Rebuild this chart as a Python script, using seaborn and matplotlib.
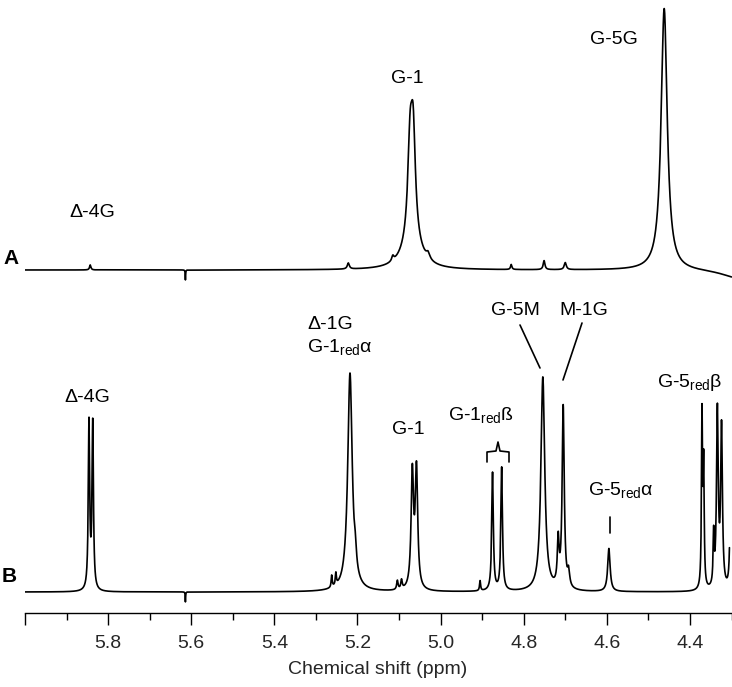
import numpy as np
import pandas as pd
import matplotlib
matplotlib.use("Agg")
import matplotlib.pyplot as plt
import seaborn as sns
from matplotlib.lines import Line2D

# ---------------- data (peak tables) ----------------
# Spectrum A: peak positions (ppm), heights (a.u.), line widths (ppm, FWHM)
a_ppm    = [5.843, 5.222, 5.115, 5.0735, 5.066, 5.069, 5.030, 4.830, 4.751, 4.700, 4.462, 4.280, 5.614]
a_height = [5.0,   6.0,   5.0,   89.0,   100.0, 27.0,  6.0,   5.0,   9.0,   7.0,   262.0, -9.0,  -10.0]
a_width  = [0.004, 0.006, 0.006, 0.013,  0.013, 0.050, 0.010, 0.004, 0.005, 0.006, 0.0176, 0.100, 0.0012]
a_range  = [6.0, 4.300]

# Spectrum B
b_ppm    = [5.846, 5.837, 5.262, 5.252, 5.218, 5.205, 5.104, 5.094, 5.068, 5.058,
            4.905, 4.875, 4.853, 4.754, 4.717, 4.705, 4.692, 4.595,
            4.371, 4.367, 4.343, 4.334, 4.324, 4.302, 5.614]
b_height = [167.0, 166.0, 12.0,  12.0,  218.0, 15.0,  9.0,   9.0,   115.0, 118.0,
            10.0,  118.0, 123.0, 214.0, 45.0,  182.0, 15.0,  43.0,
            172.0, 120.0, 50.0,  177.0, 160.0, 130.0, -10.0]
b_width  = [0.004, 0.004, 0.003, 0.003, 0.013, 0.006, 0.004, 0.004, 0.007, 0.007,
            0.003, 0.0045, 0.0045, 0.011, 0.005, 0.006, 0.006, 0.007,
            0.003, 0.003, 0.003, 0.005, 0.005, 0.004, 0.0012]
b_range  = [6.0, 4.305]

tick_values = [6.0, 5.8, 5.6, 5.4, 5.2, 5.0, 4.8, 4.6, 4.4]
tick_labels = ["", "5.8", "5.6", "5.4", "5.2", "5.0", "4.8", "4.6", "4.4"]
x_label = "Chemical shift (ppm)"

# ---------------- build traces ----------------
def spectrum(rng, centers, heights, widths, step=0.0002):
    grid = np.arange(rng[1], rng[0] + step / 2, step)
    sig = np.zeros_like(grid)
    for c, h, w in zip(centers, heights, widths):
        hw = w / 2.0
        sig += h * hw ** 2 / ((grid - c) ** 2 + hw ** 2)
    return grid, sig

offset_A, offset_B = 343.0, 21.0
ga, sa = spectrum(a_range, a_ppm, a_height, a_width)
gb, sb = spectrum(b_range, b_ppm, b_height, b_width)
df = pd.concat([
    pd.DataFrame({"ppm": ga, "signal": sa + offset_A, "trace": "A"}),
    pd.DataFrame({"ppm": gb, "signal": sb + offset_B, "trace": "B"}),
], ignore_index=True)

# ---------------- figure ----------------
sns.set_theme(style="white")
plt.rcParams["font.family"] = ["Liberation Sans", "DejaVu Sans"]
plt.rcParams["mathtext.fontset"] = "custom"
plt.rcParams["mathtext.rm"] = "Liberation Sans"
plt.rcParams["mathtext.it"] = "Liberation Sans:italic"
plt.rcParams["mathtext.bf"] = "Liberation Sans:bold"

W, H = 732, 687
fig = plt.figure(figsize=(W / 100, H / 100), dpi=100)
fig.patch.set_facecolor("white")
ax = fig.add_axes([25 / W, 74 / H, (W - 25) / W, 613 / H])

sns.lineplot(data=df, x="ppm", y="signal", hue="trace", units="trace",
             estimator=None, palette={"A": "black", "B": "black"},
             legend=False, linewidth=1.2, ax=ax)

x_right = 6.0 - (W - 25) / 415.6
ax.set_xlim(6.0, x_right)
ax.set_ylim(0, 613)
for s in ["left", "right", "top"]:
    ax.spines[s].set_visible(False)
ax.spines["bottom"].set_color("black")
ax.spines["bottom"].set_linewidth(1.0)
ax.set_yticks([])
ax.set_xticks(tick_values)
ax.set_xticklabels(tick_labels, fontsize=14)
ax.xaxis.set_minor_locator(matplotlib.ticker.MultipleLocator(0.1))
ax.tick_params(axis="x", which="major", direction="out", length=8.6, width=1.0,
               color="black", pad=7, bottom=True)
ax.tick_params(axis="x", which="minor", direction="out", length=5.0, width=1.0,
               color="black", bottom=True)
ax.set_xlabel("")
ax.set_ylabel("")
ax.set_facecolor("white")

# ---------------- annotations (figure pixel layout) ----------------
def fx(x):
    return x / W

def fy(y):
    return 1 - y / H

def label(x, y, s, ha="center", size=14, weight="normal"):
    # y is the vertical centre of the capital letters (pixels from top)
    fig.text(fx(x), fy(y + 7), s, ha=ha, va="baseline", fontsize=size,
             fontweight=weight, color="black")

def seg(pts, lw=1.2):
    xs = [fx(p[0]) for p in pts]
    ys = [fy(p[1]) for p in pts]
    fig.add_artist(Line2D(xs, ys, color="black", linewidth=lw,
                          transform=fig.transFigure))

sub = r"$_{\mathregular{red}}$"

# trace A
label(11, 257, "A", size=15, weight="bold")
label(92, 210, "Δ-4G")
label(407, 76, "G-1")
label(614, 37, "G-5G")

# trace B
label(9, 575, "B", size=15, weight="bold")
label(87, 395, "Δ-4G")
label(307, 322, "Δ-1G", ha="left")
label(307, 345, "G-1" + sub + "α", ha="left")
label(408, 427, "G-1")
label(448, 413, "G-1" + sub + "ß", ha="left")
label(515, 308, "G-5M")
label(584, 308, "M-1G")
label(588, 488, "G-5" + sub + "α", ha="left")
label(657, 380, "G-5" + sub + "β", ha="left")

seg([(520, 325), (540, 368)])
seg([(582, 323), (563, 380)])
seg([(610, 517), (610, 533)])
seg([(487, 462), (487, 452), (496, 451), (498, 442), (500, 451), (509, 452), (509, 462)])

fig.text(fx(378), fy(670), x_label, ha="center", va="center", fontsize=14)

fig.savefig("out.png", dpi=100, facecolor="white")
